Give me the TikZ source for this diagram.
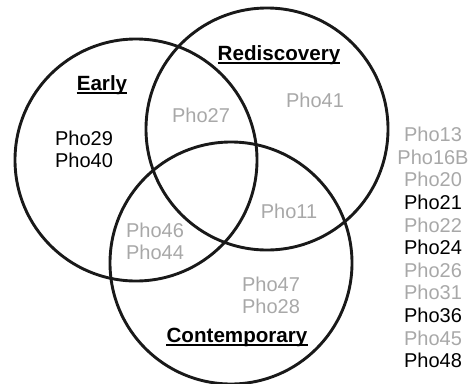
\documentclass[tikz,border=0pt]{standalone}
\usepackage{fontspec}
\setmainfont{Liberation Sans}
\definecolor{lgray}{HTML}{A8A8A8}
\begin{document}
\begin{tikzpicture}[x=1pt,y=-1pt,
  setcircle/.style={draw=black!90,line width=2.9pt},
  txt/.style={inner sep=0pt,align=center,font=\fontsize{20}{22.6}\selectfont},
  grayt/.style={txt,text=lgray},
  blackt/.style={txt,text=black},
  title/.style={inner sep=0pt,font=\fontsize{20.6}{24}\selectfont\bfseries},
  uline/.style={line width=1.5pt}]
\useasboundingbox (0,0) rectangle (473,383);
\node[setcircle,circle,minimum size=242pt,inner sep=0pt] (early) at (136,160) {};
\node[setcircle,circle,minimum size=242pt,inner sep=0pt] (redis) at (267,129) {};
\node[setcircle,circle,minimum size=242pt,inner sep=0pt] (contemp) at (231,263) {};
% titles
\node[title,anchor=base] (tEarly) at (102,90) {Early};
\node[title,anchor=base] (tRedis) at (279,60) {Rediscovery};
\node[title,anchor=base] (tCont) at (237,342) {Contemporary};
\foreach \t in {tEarly,tRedis,tCont}{
  \draw[uline] ([yshift=-3.2pt]\t.base west) -- ([yshift=-3.2pt]\t.base east);
}
% region texts
\node[blackt] (e1) at (84,149.5) {Pho29\\Pho40};
\node[grayt] (r1) at (315,100) {Pho41};
\node[grayt] (er) at (201,115) {Pho27};
\node[grayt] (rc) at (289,211) {Pho11};
\node[grayt] (ec) at (155,241.5) {Pho46\\Pho44};
\node[grayt] (c1) at (271,295.5) {Pho47\\Pho28};
% outside list
\node[txt,anchor=north] (list) at (433,127) {%
\textcolor{lgray}{Pho13}\\\textcolor{lgray}{Pho16B}\\\textcolor{lgray}{Pho20}\\%
Pho21\\\textcolor{lgray}{Pho22}\\Pho24\\\textcolor{lgray}{Pho26}\\%
\textcolor{lgray}{Pho31}\\Pho36\\\textcolor{lgray}{Pho45}\\Pho48};
\end{tikzpicture}
\end{document}
